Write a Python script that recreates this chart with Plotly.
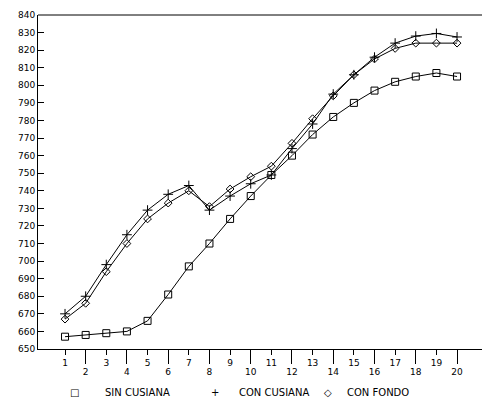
import plotly.graph_objects as go

x = list(range(1, 21))
sin_cusiana = [657, 658, 659, 660, 666, 681, 697, 710, 724, 737, 749, 760, 772, 782, 790, 797, 802, 805, 807, 805]
con_cusiana = [670, 680, 698, 715, 729, 738, 743, 729, 737, 744, 749, 764, 778, 795, 806, 816, 824, 828, 829.5, 827.5]
con_fondo = [667, 676, 694, 710, 724, 733, 740, 731, 741, 748, 754, 767, 781, 794, 806, 815, 821, 824, 824, 824]
y_ticks = list(range(650, 841, 10))
odd_ticks = [v for v in x if v % 2 == 1]
even_ticks = [v for v in x if v % 2 == 0]
legend_names = ["SIN CUSIANA", "CON CUSIANA", "CON FONDO"]

font = dict(family="DejaVu Sans", size=9, color="black")
fig = go.Figure()
fig.add_trace(go.Scatter(x=x, y=sin_cusiana, mode="lines+markers", name=legend_names[0],
                         line=dict(color="black", width=1),
                         marker=dict(symbol="square-open", size=7, color="black", line=dict(width=1))))
fig.add_trace(go.Scatter(x=x, y=con_cusiana, mode="lines+markers", name=legend_names[1],
                         line=dict(color="black", width=1),
                         marker=dict(symbol="cross-thin-open", size=7, color="black", line=dict(width=1, color="black"))))
fig.add_trace(go.Scatter(x=x, y=con_fondo, mode="lines+markers", name=legend_names[2],
                         line=dict(color="black", width=1),
                         marker=dict(symbol="diamond-open", size=6, color="black", line=dict(width=1))))
# even ticks on an overlaid axis
fig.add_trace(go.Scatter(x=x, y=sin_cusiana, xaxis="x2", mode="markers", opacity=0, showlegend=False, hoverinfo="skip"))

rng = [-0.31, 21.21]
fig.update_layout(
    width=482, height=399,
    margin=dict(l=38, r=0, t=15, b=50),
    paper_bgcolor="white", plot_bgcolor="white",
    showlegend=False,
    font=font,
    xaxis=dict(range=rng, tickvals=odd_ticks, ticktext=[str(v) for v in odd_ticks],
               ticks="outside", ticklen=5, tickwidth=1, tickcolor="black",
               showgrid=False, zeroline=False, showline=True, linecolor="black", linewidth=1,
               mirror=False, tickfont=font),
    xaxis2=dict(range=rng, overlaying="x", side="bottom", anchor="y",
                tickvals=even_ticks, ticktext=[str(v) for v in even_ticks],
                ticks="outside", ticklen=14, tickwidth=1, tickcolor="black",
                showgrid=False, zeroline=False, showline=False, tickfont=font),
    yaxis=dict(range=[650, 840], tickvals=y_ticks, ticktext=[str(v) for v in y_ticks],
               ticks="inside", ticklen=6, tickwidth=1, tickcolor="black",
               showgrid=False, zeroline=False, showline=True, linecolor="black", linewidth=1,
               tickfont=font),
)
# top border line
fig.add_shape(type="line", xref="paper", yref="paper", x0=0, x1=1, y0=1, y1=1,
              line=dict(color="black", width=1))

legend_syms = ["□", "+", "◇"]
sym_x = [74, 215, 328]
text_x = [103, 237, 345]
W = 482 - 38
for s, sx, name, tx in zip(legend_syms, sym_x, legend_names, text_x):
    fig.add_annotation(x=(sx - 38) / W, y=-0.13, xref="paper", yref="paper", text=s,
                       showarrow=False, xanchor="center", yanchor="middle",
                       font=dict(family="DejaVu Sans", size=10, color="black"))
    fig.add_annotation(x=(tx - 38) / W, y=-0.13, xref="paper", yref="paper", text=name,
                       showarrow=False, xanchor="left", yanchor="middle",
                       font=dict(family="DejaVu Sans", size=10, color="black"))

fig.write_html("out.html")
